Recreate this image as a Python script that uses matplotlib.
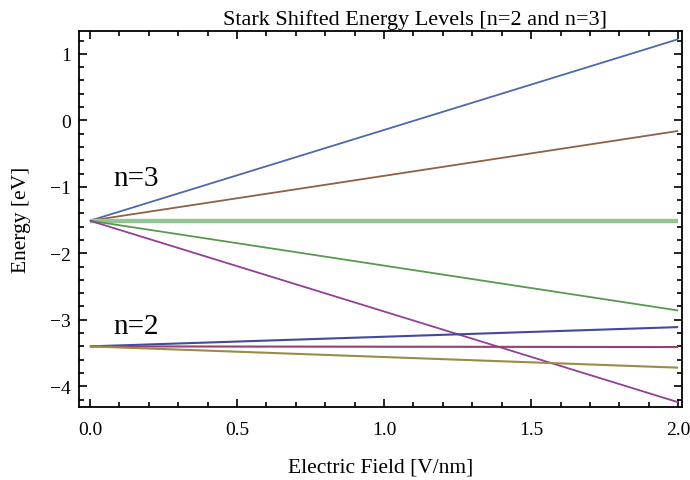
import numpy as np
import matplotlib
matplotlib.use('Agg')
import matplotlib.pyplot as plt
from matplotlib.ticker import MultipleLocator, FormatStrFormatter

plt.rcParams['font.family'] = ['Liberation Serif', 'DejaVu Serif']

# field values (V/nm) at the two ends of each straight level
field = [0.0, 2.0]

# n=3 levels (eV)
n3_levels = {
    'up2':   [-1.51, 1.22],
    'up1':   [-1.51, -0.16],
    'zero':  [-1.51, -1.51],
    'down1': [-1.51, -2.86],
    'down2': [-1.51, -4.24],
}
# n=2 levels (eV)
n2_levels = {
    'up':   [-3.40, -3.11],
    'zero': [-3.40, -3.41],
    'down': [-3.40, -3.72],
}

n3_colors = {'up2': '#5068aa', 'up1': '#8e6242', 'zero': '#93c493',
             'down1': '#579a4e', 'down2': '#923f98'}
n3_widths = {'up2': 1.3, 'up1': 1.3, 'zero': 3.2, 'down1': 1.3, 'down2': 1.3}
n2_colors = {'up': '#4349a0', 'zero': '#973f6e', 'down': '#998c45'}

fig = plt.figure(figsize=(6.9, 4.81), dpi=100)
ax = fig.add_axes([0.1145, 0.152, 0.8735, 0.781])

for k, v in n3_levels.items():
    ax.plot(field, v, color=n3_colors[k], lw=n3_widths[k], solid_capstyle='butt')
for k, v in n2_levels.items():
    ax.plot(field, v, color=n2_colors[k], lw=1.5, solid_capstyle='butt')

ax.text(0.08, -0.86, 'n=3', fontsize=21, va='center', ha='left')
ax.text(0.08, -3.09, 'n=2', fontsize=21, va='center', ha='left')

ax.set_xlim(-0.037, 2.012)
ax.set_ylim(-4.31, 1.34)
ax.xaxis.set_major_locator(MultipleLocator(0.5))
ax.xaxis.set_minor_locator(MultipleLocator(0.1))
ax.yaxis.set_major_locator(MultipleLocator(1))
ax.yaxis.set_minor_locator(MultipleLocator(0.2))
ax.xaxis.set_major_formatter(FormatStrFormatter('%.1f'))
ax.tick_params(which='both', direction='in', top=True, right=True,
               labelsize=14, width=1.2)
ax.tick_params(which='major', length=6)
ax.tick_params(which='minor', length=3.5)
ax.tick_params(axis='x', pad=10)
ax.tick_params(axis='y', pad=6)
for s in ax.spines.values():
    s.set_linewidth(1.3)

ax.set_title('Stark Shifted Energy Levels [n=2 and n=3]', fontsize=16, pad=5, x=0.557)
ax.set_xlabel('Electric Field [V/nm]', fontsize=15.5)
ax.set_ylabel('Energy [eV]', fontsize=15.5)
ax.xaxis.set_label_coords(0.5, -0.135)
ax.yaxis.set_label_coords(-0.08, 0.5)

fig.savefig('out.png', dpi=100)
